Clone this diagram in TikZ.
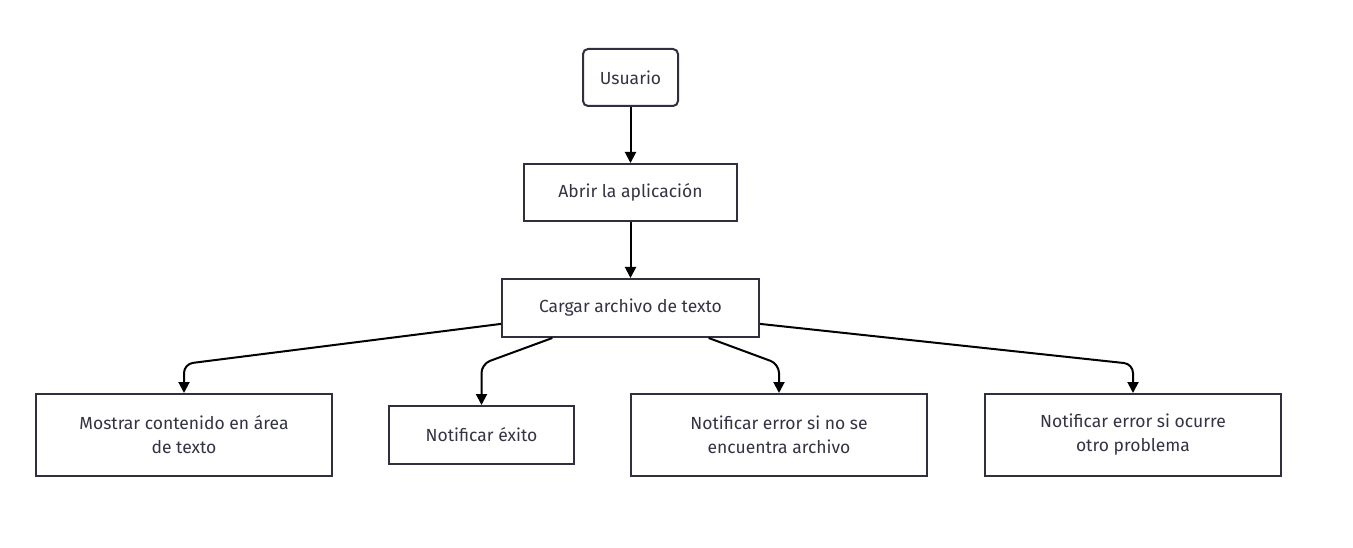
\documentclass[tikz,border=0pt]{standalone}
\usepackage{fontspec}
\setmainfont{Fira Sans}
\usetikzlibrary{arrows.meta, positioning}
\definecolor{boxline}{HTML}{2F2F40}
\definecolor{boxtext}{HTML}{333344}
\tikzset{>={Triangle[length=11pt,width=11pt]}}
\tikzset{
  paso/.style={draw=boxline, line width=2pt, fill=white, text=boxtext,
    inner sep=0pt, align=center, font=\fontsize{17.5}{24}\selectfont},
  flecha/.style={->, line width=2pt, black, rounded corners=9pt}
}

\begin{document}
\begin{tikzpicture}[x=1pt, y=-1pt]
  \useasboundingbox (0,0) rectangle (1353,548);
  % nodos
  \node [paso, rounded corners=5pt, minimum width=95pt, minimum height=57pt] (usuario) at (630.5,77.5) {Usuario};
  \node [paso, minimum width=213pt, minimum height=57pt] (abrir) at (630.5,192.5) {Abrir la aplicación};
  \node [paso, minimum width=257pt, minimum height=58pt] (cargar) at (630.5,308) {Cargar archivo de texto};
  \node [paso, minimum width=296pt, minimum height=82pt] (mostrar) at (184,435) {Mostrar contenido en área\\de texto};
  \node [paso, minimum width=185pt, minimum height=58pt] (exito) at (481.5,435) {Notificar éxito};
  \node [paso, minimum width=296pt, minimum height=82pt] (noarchivo) at (779,435) {Notificar error si no se\\encuentra archivo};
  \node [paso, minimum width=296pt, minimum height=82pt] (otroerror) at (1133,435) {Notificar error si ocurre\\otro problema};
  % codos
  \coordinate (c1) at (184,364);
  \coordinate (c2) at (481.5,364);
  \coordinate (c3) at (779,364);
  \coordinate (c4) at (1133,364);
  % flechas
  \draw [flecha] (usuario) -- (abrir);
  \draw [flecha] (abrir) -- (cargar);
  \draw [flecha] (cargar.187) -- (c1) -- (mostrar.north);
  \draw [flecha] (cargar.201) -- (c2) -- (exito.north);
  \draw [flecha] (cargar.339) -- (c3) -- (noarchivo.north);
  \draw [flecha] (cargar.353) -- (c4) -- (otroerror.north);
\end{tikzpicture}
\end{document}
